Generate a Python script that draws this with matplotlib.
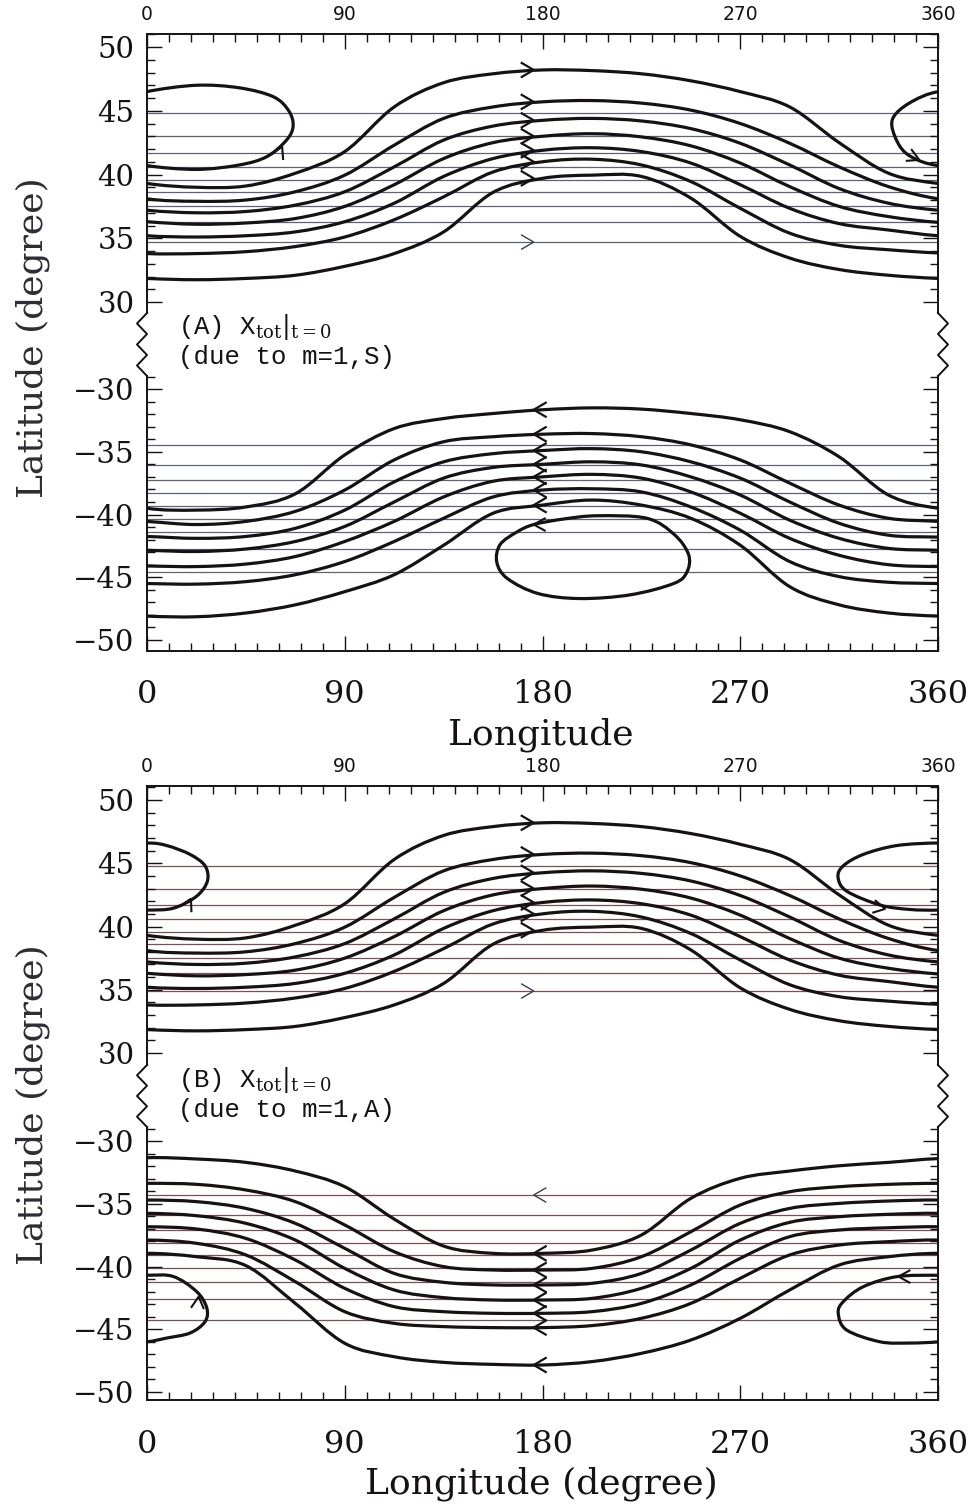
import numpy as np
import matplotlib
matplotlib.use('Agg')
import matplotlib.pyplot as plt
from matplotlib.path import Path
from matplotlib.patches import PathPatch
from matplotlib.lines import Line2D

plt.rcParams['font.family'] = ['DejaVu Serif']
plt.rcParams['mathtext.fontset'] = 'dejavuserif'

lon_pts = [0, 22.5, 45, 67.5, 90, 112.5, 135, 157.5, 180,
           202.5, 225, 247.5, 270, 292.5, 315, 337.5, 360]

# ---- panel A, northern part
a_north = [
    [39.3, 39.0, 39.1, 40.1, 41.8, 45.3, 47.2, 47.9, 48.2, 48.15, 47.9, 47.35, 46.5, 45.3, 42.5, 40.1, 39.3],
    [38.1, 37.9, 38.0, 38.65, 39.95, 42.3, 44.4, 45.3, 45.7, 45.8, 45.6, 45.05, 44.0, 42.45, 40.6, 39.05, 38.1],
    [37.2, 37.0, 37.1, 37.6, 38.65, 40.6, 42.7, 43.8, 44.25, 44.4, 44.2, 43.6, 42.45, 40.75, 38.9, 37.75, 37.2],
    [36.3, 36.1, 36.2, 36.55, 37.5, 39.2, 41.25, 42.5, 43.0, 43.2, 42.95, 42.25, 40.9, 39.05, 37.5, 36.7, 36.25],
    [35.2, 35.1, 35.2, 35.5, 36.3, 37.75, 39.85, 41.25, 41.9, 42.1, 41.8, 40.9, 39.2, 37.35, 36.15, 35.65, 35.2],
    [33.8, 33.8, 33.95, 34.35, 35.1, 36.45, 38.25, 40.2, 41.0, 41.2, 40.75, 39.45, 37.35, 35.4, 34.45, 34.1, 33.85],
    [31.85, 31.75, 31.85, 32.1, 32.8, 33.8, 35.5, 38.6, 39.7, 39.95, 39.85, 38.15, 35.15, 33.45, 32.55, 32.1, 31.85],
]
a_north_thin = [44.8, 43.0, 41.7, 40.6, 39.6, 38.6, 37.5, 36.3, 34.7]
a_north_loop_lon = [-21, -17.3, -11.2, 0, 22.5, 42, 54.5, 63.5, 66.5, 64.5, 57.5, 42, 22.5, 0, -11, -19]
a_north_loop_lat = [43.8, 42.2, 41.3, 40.7, 40.4, 40.75, 41.4, 42.7, 43.8, 45.0, 46.1, 46.8, 47.0, 46.5, 45.8, 44.8]
a_north_loop_arrows = [(61.5, 42.2, 0.45, 1.0), (-8.5, 41.15, 1.0, -0.45)]

# ---- panel A, southern part
a_south = [
    [-39.5, -39.65, -39.4, -38.35, -35.25, -33.15, -32.35, -31.95, -31.65, -31.5, -31.6, -31.95, -32.45, -33.4, -35.4, -38.45, -39.5],
    [-40.55, -40.8, -40.55, -39.75, -38.05, -35.65, -34.2, -33.8, -33.6, -33.55, -33.8, -34.45, -35.65, -37.5, -39.25, -40.3, -40.55],
    [-41.75, -41.9, -41.75, -41.1, -39.65, -37.4, -35.8, -35.15, -34.9, -34.75, -35.0, -35.8, -37.1, -39.0, -40.7, -41.65, -41.8],
    [-42.85, -42.95, -42.75, -42.15, -40.95, -39.0, -37.1, -36.25, -36.0, -35.8, -36.05, -37.0, -38.45, -40.45, -41.9, -42.7, -42.85],
    [-44.1, -44.15, -43.95, -43.35, -42.15, -40.55, -38.6, -37.35, -37.0, -36.8, -37.1, -38.2, -39.9, -41.9, -43.25, -44.0, -44.15],
    [-45.5, -45.55, -45.35, -44.8, -43.75, -42.15, -40.3, -38.6, -38.05, -37.95, -38.2, -39.4, -41.25, -43.75, -44.95, -45.4, -45.5],
    [-48.1, -48.15, -47.85, -47.2, -46.15, -44.8, -42.45, -39.9, -39.25, -38.85, -39.25, -40.3, -42.45, -45.75, -47.2, -47.85, -48.1],
]
a_south_thin = [-34.45, -36.05, -37.25, -38.3, -39.3, -40.35, -41.4, -42.75, -44.55]
a_south_loop_lon = [205, 227.5, 240, 246.5, 245.7, 239.7, 220, 197, 178, 164, 159.2, 160.7, 168.3, 176, 190]
a_south_loop_lat = [-40.1, -40.3, -41.6, -43.2, -44.6, -45.5, -46.4, -46.7, -46.3, -45.1, -43.8, -42.4, -41.4, -40.8, -40.35]
a_south_loop_arrows = [(176, -40.8, -1.0, 0.0)]

# ---- panel B, northern part
b_north = [row[:] for row in a_north]
b_north_thin = [44.8, 43.0, 41.7, 40.6, 39.6, 38.6, 37.5, 36.3, 34.9]
b_north_loop_lon = [0, 12, 22.6, 27.5, 26.4, 19.6, 9, 0, -18.8, -34, -43.1, -45.5, -41.6, -26.4, -13]
b_north_loop_lat = [41.3, 41.45, 42.4, 43.6, 44.8, 45.7, 46.4, 46.6, 46.4, 45.7, 44.8, 43.9, 42.8, 41.7, 41.35]
b_north_loop_arrows = [(20, 42.2, 0.5, 1.0), (-24, 41.4, 1.0, -0.2)]

# ---- panel B, southern part
b_south = [
    [-31.33, -31.43, -31.7, -32.39, -33.64, -36.22, -38.37, -38.95, -38.95, -38.69, -37.49, -34.57, -32.97, -32.39, -31.97, -31.7, -31.4],
    [-33.37, -33.45, -33.9, -34.83, -36.69, -38.82, -40.01, -40.28, -40.28, -40.15, -39.22, -37.23, -35.1, -34.04, -33.64, -33.45, -33.37],
    [-34.7, -34.83, -35.37, -36.56, -38.55, -40.55, -41.26, -41.47, -41.47, -41.34, -40.55, -38.69, -36.56, -35.37, -34.97, -34.78, -34.7],
    [-35.76, -35.95, -36.56, -37.89, -40.15, -41.87, -42.48, -42.67, -42.67, -42.54, -41.74, -40.15, -37.89, -36.48, -36.03, -35.84, -35.76],
    [-36.83, -37.01, -37.76, -39.48, -41.74, -43.2, -43.6, -43.73, -43.73, -43.6, -42.94, -41.47, -39.35, -37.62, -37.09, -36.91, -36.83],
    [-37.89, -38.15, -39.08, -41.21, -43.6, -44.53, -44.79, -44.87, -44.87, -44.71, -44.13, -42.94, -40.94, -39.08, -38.29, -38.02, -37.89],
    [-38.95, -39.22, -39.93, -42.94, -46.12, -47.19, -47.64, -47.8, -47.85, -47.58, -46.92, -45.86, -44.13, -41.87, -39.88, -39.22, -38.95],
]
b_south_thin = [-34.3, -35.9, -37.1, -38.15, -39.1, -40.1, -41.2, -42.55, -44.25]
b_south_loop_lon = [0, 12, 22.6, 27.2, 26.4, 19.6, 9, 0, -13, -26.4, -41.6, -45.4, -43.1, -34, -18.8]
b_south_loop_lat = [-40.7, -40.8, -42.0, -43.3, -44.4, -45.3, -45.7, -46.0, -46.1, -46.0, -45.06, -43.73, -42.8, -41.61, -40.81]
b_south_loop_arrows = [(23.5, -42.4, 0.1, 1.0), (-18, -40.8, -1.0, 0.0)]

lon_ticks = [0, 90, 180, 270, 360]

W, H = 973, 1505
INK = '#161214'

fig = plt.figure(figsize=(W / 100, H / 100), dpi=100)


def box(x0, x1, y0, y1):
    return [x0 / W, 1 - y1 / H, (x1 - x0) / W, (y1 - y0) / H]


def smooth_path(xs, ys, closed=False, period=None):
    P = np.column_stack([xs, ys]).astype(float)
    n = len(P)
    if closed:
        ext = np.vstack([P[-1], P, P[0], P[1]])
        segs = n
    else:
        first = P[-2] - [period, 0]
        last = P[1] + [period, 0]
        ext = np.vstack([first, P, last])
        segs = n - 1
    verts = [ext[1]]
    codes = [Path.MOVETO]
    for i in range(1, segs + 1):
        p0, p1, p2, p3 = ext[i - 1], ext[i], ext[i + 1], ext[i + 2]
        verts += [p1 + (p2 - p0) / 6, p2 - (p3 - p1) / 6, p2]
        codes += [Path.CURVE4] * 3
    return Path(verts, codes)


def chevron(ax, x, y, dx, dy, size=12, half=7, lw=1.6, color=INK):
    tr = ax.transData
    p = tr.transform((x, y))
    d = np.array([dx, dy], float)
    d /= np.hypot(*d)
    nrm = np.array([-d[1], d[0]])
    pts = np.array([p - size * d + half * nrm, p, p - size * d - half * nrm])
    pts = tr.inverted().transform(pts)
    ax.plot(pts[:, 0], pts[:, 1], color=color, lw=lw, solid_joinstyle='miter', clip_on=False)


def style(ax, ylim, yticks, top, bottom, xsize, xpad):
    ax.set_xlim(0, 360)
    ax.set_ylim(*ylim)
    ax.set_xticks(lon_ticks)
    ax.set_xticks(np.arange(0, 361, 10), minor=True)
    ax.set_yticks(yticks)
    lo, hi = int(np.ceil(ylim[0])), int(np.floor(ylim[1]))
    ax.set_yticks(np.arange(lo, hi + 1), minor=True)
    ax.tick_params(which='both', direction='in', left=True, right=True,
                   top=top, bottom=bottom, labeltop=top, labelbottom=bottom,
                   width=1.0, colors=INK)
    ax.tick_params(which='major', length=11)
    ax.tick_params(which='minor', length=5.5)
    ax.tick_params(axis='y', labelsize=21, pad=9)
    ax.tick_params(axis='x', labelsize=xsize, pad=xpad)
    if top:
        for t in ax.get_xticklabels():
            t.set_fontfamily('DejaVu Sans')
    for side in ['left', 'right', 'top', 'bottom']:
        ax.spines[side].set_linewidth(1.4)
        ax.spines[side].set_color(INK)
    ax.spines['top'].set_visible(top)
    ax.spines['bottom'].set_visible(bottom)
    ax.patch.set_alpha(0)


def draw_half(ax, curves, thin, loop_lon, loop_lat, loop_arrows, direction, thin_arrow, thin_color):
    ax.hlines(thin, 0, 360, color=thin_color, lw=0.9, zorder=1)
    for lats in curves:
        ax.add_patch(PathPatch(smooth_path(lon_pts, lats, period=360), fill=False,
                               lw=2.3, ec=INK, capstyle='round', zorder=3))
        chevron(ax, 176, lats[8], direction, 0)
    if thin_arrow is not None:
        chevron(ax, 176, thin_arrow, direction, 0, lw=1.0, color='#3a3d4d')
    for shift in (0, 360):
        xs = np.array(loop_lon, float) + shift
        if xs.max() < 0 or xs.min() > 360:
            continue
        ax.add_patch(PathPatch(smooth_path(xs, loop_lat, closed=True), fill=False,
                               lw=2.3, ec=INK, zorder=3))
    for (x, y, dx, dy) in loop_arrows:
        if x < 0:
            x += 360
        chevron(ax, x, y, dx, dy, size=11, half=6, lw=1.5)


def zigzag(x, y0, y1, side):
    ys = np.linspace(y0, y1, 7)
    xs = [x if i % 2 == 0 else x + side * 10 for i in range(7)]
    fig.add_artist(Line2D(np.array(xs) / W, 1 - ys / H, color=INK, lw=1.4,
                          transform=fig.transFigure))


panels = [
    dict(top=(34, 313, (29.14, 51.02)), bot=(376, 651, (-50.88, -28.96)),
         north=(a_north, a_north_thin, a_north_loop_lon, a_north_loop_lat, a_north_loop_arrows, a_north_thin[-1]),
         south=(a_south, a_south_thin, a_south_loop_lon, a_south_loop_lat, a_south_loop_arrows, None),
         thin_color='#5f6079',
         xpad=20, label='Longitude', label_y=735, ylab_y=338,
         note1=r'(A) X$_{\rm tot}|_{\rm t=0}$', note2='(due to m=1,S)', note_y=327),
    dict(top=(786, 1065, (29.05, 51.11)), bot=(1127, 1400, (-50.64, -28.88)),
         north=(b_north, b_north_thin, b_north_loop_lon, b_north_loop_lat, b_north_loop_arrows, b_north_thin[-1]),
         south=(b_south, b_south_thin, b_south_loop_lon, b_south_loop_lat, b_south_loop_arrows, b_south_thin[0]),
         thin_color='#7a4f55',
         xpad=21, label='Longitude (degree)', label_y=1484, ylab_y=1105,
         note1=r'(B) X$_{\rm tot}|_{\rm t=0}$', note2='(due to m=1,A)', note_y=1080),
]

for p in panels:
    y0, y1, ylim = p['top']
    axn = fig.add_axes(box(147, 938, y0, y1))
    style(axn, ylim, [30, 35, 40, 45, 50], True, False, 13.5, 7)
    y0b, y1b, ylimb = p['bot']
    axs = fig.add_axes(box(147, 938, y0b, y1b))
    style(axs, ylimb, [-50, -45, -40, -35, -30], False, True, 23, p['xpad'])

    c, th, ll, la, arr, ta = p['north']
    draw_half(axn, c, th, ll, la, arr, 1, ta, p['thin_color'])
    c, th, ll, la, arr, ta = p['south']
    draw_half(axs, c, th, ll, la, arr, -1, ta, p['thin_color'])

    zigzag(147, y1, y0b, -1)
    zigzag(938, y1, y0b, 1)

    fig.text(541 / W, 1 - p['label_y'] / H, p['label'], fontsize=26,
             ha='center', va='center', color=INK)
    fig.text(33 / W, 1 - p['ylab_y'] / H, 'Latitude (degree)', fontsize=26,
             rotation=90, ha='center', va='center', color='#2c2c34')
    fig.text(178 / W, 1 - p['note_y'] / H, p['note1'], fontsize=18.5,
             family='Liberation Mono', ha='left', va='center', color=INK)
    fig.text(178 / W, 1 - (p['note_y'] + 30) / H, p['note2'], fontsize=18.5,
             family='Liberation Mono', ha='left', va='center', color=INK)

fig.savefig('out.png', dpi=100)
